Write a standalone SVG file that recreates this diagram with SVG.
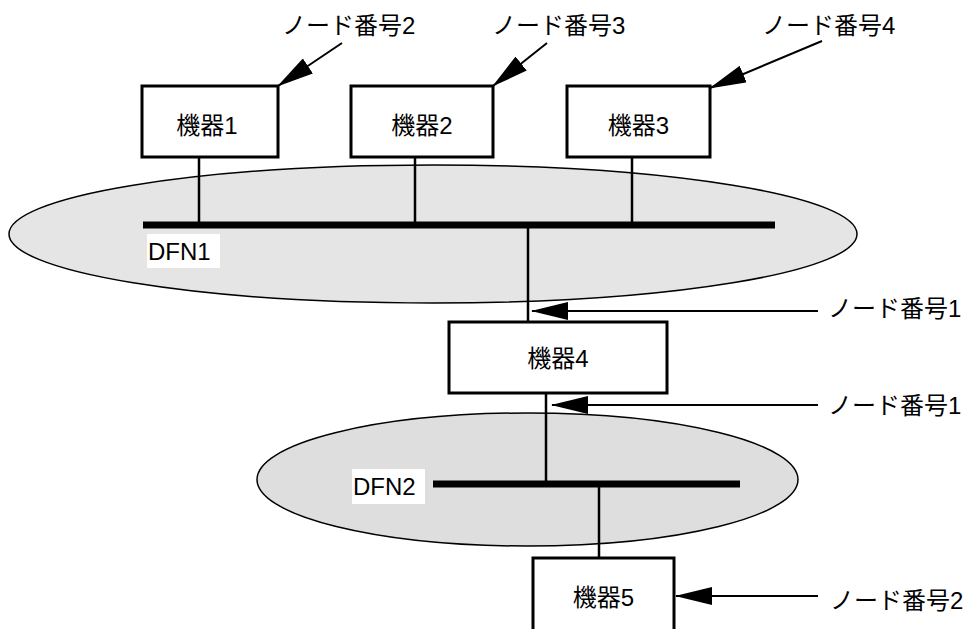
<svg xmlns="http://www.w3.org/2000/svg" width="975" height="629" viewBox="0 0 975 629">
<style>
.box{fill:#fff;stroke:#000;stroke-width:3}
.net{stroke:#000;stroke-width:1.5}
.bus{stroke:#000;stroke-width:7}
.wire{stroke:#000;stroke-width:2.5;fill:none}
.arr{stroke:#000;stroke-width:2;fill:none;marker-end:url(#ah)}
.jp{font-family:"Liberation Sans","Noto Sans CJK JP",sans-serif;font-size:24px;fill:#000}
.lbl{font-family:"Liberation Sans",sans-serif;font-size:24px;fill:#000}
</style>
<defs>
<marker id="ah" viewBox="0 0 37 18" refX="36" refY="9" markerWidth="37" markerHeight="18" markerUnits="userSpaceOnUse" orient="auto">
<path d="M0,0 L37,9 L0,18 Z" fill="#000"/>
</marker>
</defs>
<g id="dfn1">
<ellipse class="net" cx="433" cy="234" rx="424" ry="69" fill="#e5e5e5"/>
<line class="bus" x1="143" y1="225" x2="775" y2="225"/>
<rect x="147" y="234" width="73" height="34" fill="#fff"/>
<text class="lbl" x="148" y="260">DFN1</text>
</g>
<g id="dfn2">
<ellipse class="net" cx="527.5" cy="479.5" rx="270.5" ry="66.5" fill="#dedede"/>
<line class="bus" x1="433" y1="484" x2="740" y2="484"/>
<rect x="352" y="469" width="73" height="35" fill="#fff"/>
<text class="lbl" x="353" y="495">DFN2</text>
</g>
<g id="connectors">
<line class="wire" x1="199" y1="157" x2="199" y2="225"/>
<line class="wire" x1="415" y1="157" x2="415" y2="225"/>
<line class="wire" x1="632" y1="157" x2="632" y2="225"/>
<line class="wire" x1="528" y1="225" x2="528" y2="322"/>
<line class="wire" x1="546" y1="393" x2="546" y2="484"/>
<line class="wire" x1="599" y1="484" x2="599" y2="558"/>
<line class="arr" x1="342" y1="43" x2="278" y2="86"/>
<line class="arr" x1="547" y1="43" x2="493" y2="86"/>
<line class="arr" x1="822" y1="41" x2="710" y2="88"/>
<line class="arr" x1="818" y1="311" x2="532" y2="311"/>
<line class="arr" x1="818" y1="405" x2="552" y2="405"/>
<line class="arr" x1="818" y1="596" x2="676" y2="596"/>
</g>
<g id="box1">
<rect class="box" x="142" y="86" width="136" height="71"/>
<text class="jp" x="207" y="134" text-anchor="middle">機器1</text>
</g>
<g id="box2">
<rect class="box" x="351" y="86" width="142" height="71"/>
<text class="jp" x="422" y="134" text-anchor="middle">機器2</text>
</g>
<g id="box3">
<rect class="box" x="567" y="86" width="143" height="71"/>
<text class="jp" x="638.5" y="134" text-anchor="middle">機器3</text>
</g>
<g id="box4">
<rect class="box" x="449" y="322" width="218" height="71"/>
<text class="jp" x="558" y="367" text-anchor="middle">機器4</text>
</g>
<g id="box5">
<rect class="box" x="533" y="558" width="141" height="90"/>
<text class="jp" x="603.5" y="606" text-anchor="middle">機器5</text>
</g>
<g id="labels">
<text class="jp" x="282" y="34">ノード番号2</text>
<text class="jp" x="492" y="34">ノード番号3</text>
<text class="jp" x="762" y="34">ノード番号4</text>
<text class="jp" x="828" y="317">ノード番号1</text>
<text class="jp" x="828" y="414">ノード番号1</text>
<text class="jp" x="830" y="609">ノード番号2</text>
</g>
</svg>
